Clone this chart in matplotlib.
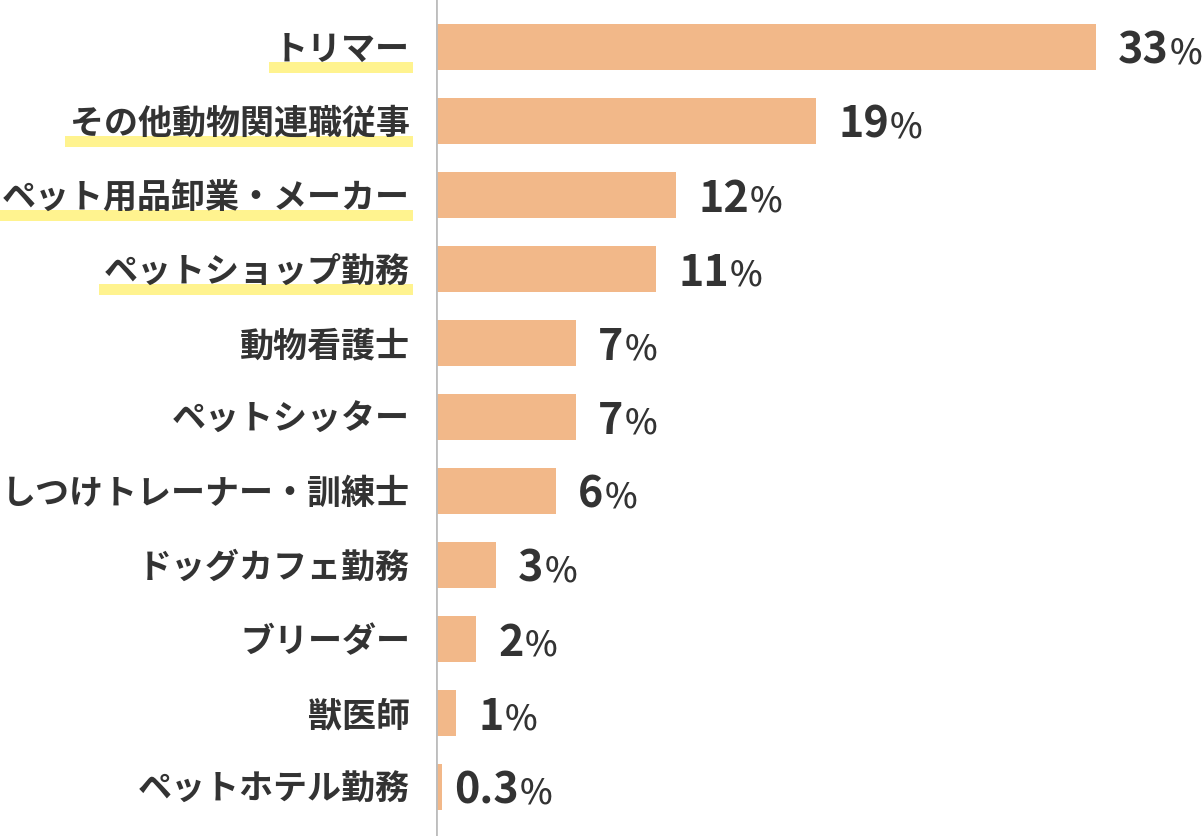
import matplotlib
matplotlib.use("Agg")
import matplotlib.pyplot as plt
from matplotlib.patches import Rectangle

plt.rcParams['font.family'] = ['Noto Sans CJK JP', 'DejaVu Sans']

categories = ["トリマー", "その他動物関連職従事", "ペット用品卸業・メーカー", "ペットショップ勤務",
              "動物看護士", "ペットシッター", "しつけトレーナー・訓練士", "ドッグカフェ勤務",
              "ブリーダー", "獣医師", "ペットホテル勤務"]
values = [33, 19, 12, 11, 7, 7, 6, 3, 2, 1, 0.3]
value_labels = ["33", "19", "12", "11", "7", "7", "6", "3", "2", "1", "0.3"]
highlighted = [True, True, True, True, False, False, False, False, False, False, False]

W, H = 1202, 836
fig = plt.figure(figsize=(W / 100, H / 100), dpi=100)
ax_left = 436 / W
ax = fig.add_axes([ax_left, 0, 1 - ax_left, 1])

bar_color = "#f2b889"
text_color = "#333333"
hl_color = "#fff38f"

n = len(categories)
ys = list(range(n))
ax.barh(ys, values, height=46 / 74, color=bar_color, edgecolor='none', zorder=2)
ax.set_xlim(0, (W - 436) / 20)
ax.set_ylim((H - 47) / 74, -47 / 74)
ax.axis('off')
ax.axvline(0, color="#bdbdbd", linewidth=2, zorder=3)

fig.canvas.draw()
renderer = fig.canvas.get_renderer()

# category labels (right aligned at x=410 px)
for i, (cat, hl) in enumerate(zip(categories, highlighted)):
    x_px = 410
    y_disp = ax.transData.transform((0, i + 13 / 74))[1]
    t = fig.text(x_px / W, y_disp / H, cat, ha='right', va='baseline',
                 fontsize=24.5, fontweight='bold', color=text_color, zorder=5)
    if hl:
        ext = t.get_window_extent(renderer)
        y0 = ax.transData.transform((0, i + 26 / 74))[1]
        y1 = ax.transData.transform((0, i + 15 / 74))[1]
        rect = Rectangle((ext.x0 - 5, y0), (ext.x1 + 3) - (ext.x0 - 5), y1 - y0,
                         transform=None, facecolor=hl_color, edgecolor='none', zorder=4)
        fig.patches.append(rect)

# value labels
for i, (v, lab) in enumerate(zip(values, value_labels)):
    off_px = 22 if v >= 1 else 12
    t = ax.annotate(lab, xy=(v, i + 17 / 74), xytext=(off_px * 0.72, 0), textcoords='offset points',
                    ha='left', va='baseline', fontsize=31, fontweight='bold', color=text_color)
    ext = t.get_window_extent(renderer)
    yb = ax.transData.transform((0, i + 17 / 74))[1]
    fig.text((ext.x1 + 1) / W, yb / H, "%", ha='left', va='baseline', fontsize=25,
             fontweight='medium', color=text_color)

fig.savefig("out.png", dpi=100, facecolor='white')
